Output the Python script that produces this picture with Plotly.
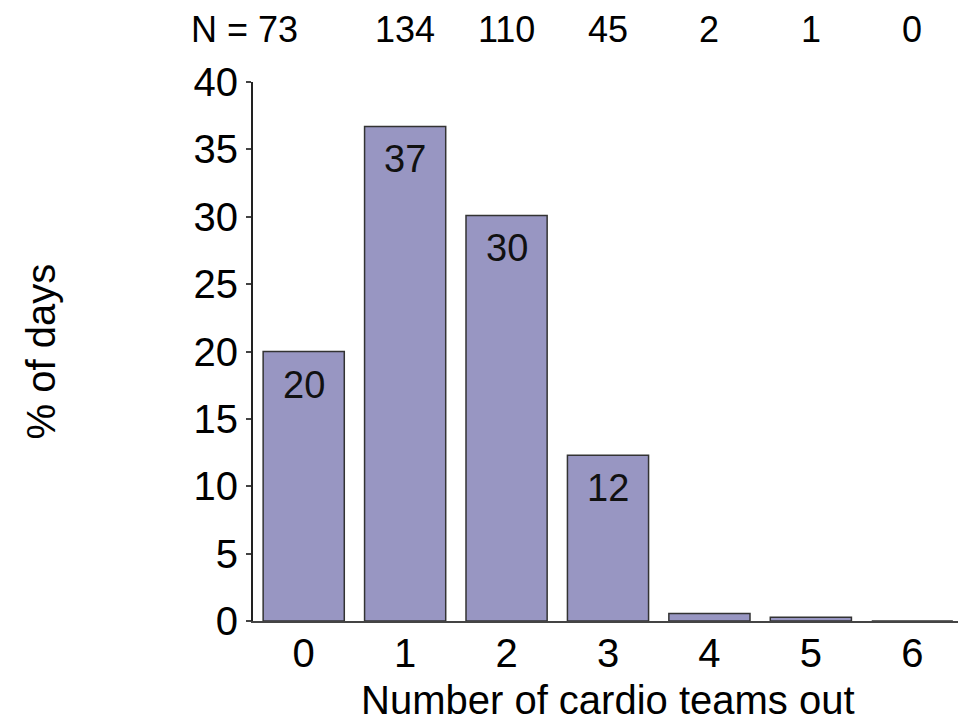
import plotly.graph_objects as go

categories = ["0", "1", "2", "3", "4", "5", "6"]
pct_days = [20.0, 36.7, 30.1, 12.3, 0.55, 0.27, 0.0]
bar_labels = ["20", "37", "30", "12", "", "", ""]
n_counts = ["N = 73", "134", "110", "45", "2", "1", "0"]
y_ticks = [0, 5, 10, 15, 20, 25, 30, 35, 40]

FONT = "Liberation Sans, Arial, sans-serif"

# page body has an 8px margin, so the figure is sized to fit the 966x725 window
W, H = 958, 717
L, R, T, B = 245, 3, 74, 104
PW = W - L - R
PH = H - T - B

fig = go.Figure()
fig.add_trace(go.Bar(
    x=categories, y=pct_days,
    marker=dict(color="#9896C2", line=dict(color="#333333", width=1.5)),
    hoverinfo="skip",
))

annotations = []
for c, v, lab in zip(categories, pct_days, bar_labels):
    if lab:
        annotations.append(dict(x=c, y=v, xref="x", yref="y", text=lab, showarrow=False,
                                yanchor="middle", yshift=-33,
                                font=dict(family=FONT, size=38, color="#111111")))
for i, (c, t) in enumerate(zip(categories, n_counts)):
    annotations.append(dict(x=c, y=1, xref="x", yref="paper", text=t, showarrow=False,
                            xanchor="right" if i == 0 else "center",
                            xshift=-4 if i == 0 else 0,
                            yanchor="middle", yshift=53,
                            font=dict(family=FONT, size=36, color="#000000")))
# y-axis title
annotations.append(dict(x=(40 - 8 - L) / PW, y=0.5, xref="paper", yref="paper", text="% of days",
                        showarrow=False, textangle=-90, xanchor="center", yanchor="middle",
                        font=dict(family=FONT, size=40, color="#000000")))
# x-axis title
annotations.append(dict(x=0.5, y=0, xref="paper", yref="paper", text="Number of cardio teams out",
                        showarrow=False, xanchor="center", yanchor="middle", yshift=-79,
                        font=dict(family=FONT, size=40, color="#000000")))

fig.update_layout(
    width=W, height=H,
    margin=dict(l=L, r=R, t=T, b=B, autoexpand=False),
    paper_bgcolor="white", plot_bgcolor="white",
    showlegend=False,
    bargap=0.2,
    annotations=annotations,
    xaxis=dict(
        type="category", range=[-0.5, 6.5],
        showline=True, linecolor="#444444", linewidth=2,
        ticks="", showgrid=False, zeroline=False,
        ticklabelstandoff=-4,
        tickfont=dict(family=FONT, size=40, color="#000000"),
    ),
    yaxis=dict(
        range=[0, 40], tickvals=y_ticks,
        showline=True, linecolor="#222222", linewidth=2,
        ticks="outside", ticklen=5, tickcolor="#444444", tickwidth=1.5,
        showgrid=False, zeroline=False,
        tickfont=dict(family=FONT, size=40, color="#000000"),
    ),
)

fig.write_html("out.html")
